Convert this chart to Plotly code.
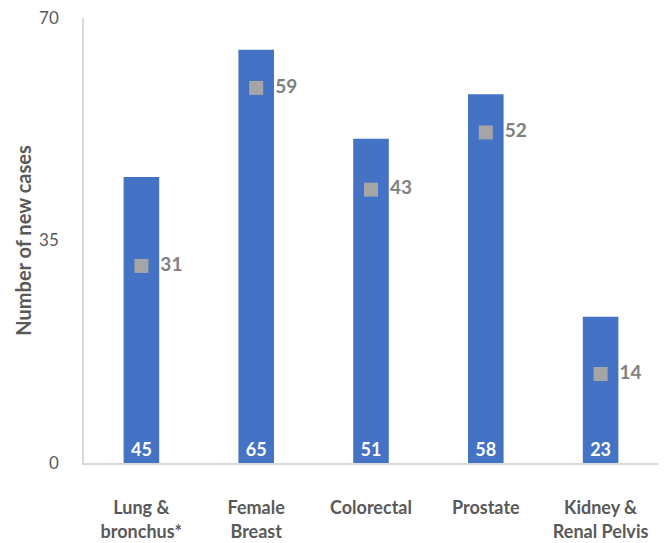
import plotly.graph_objects as go

# Cancer sites and counts
categories = ["Lung &<br>bronchus*", "Female<br>Breast", "Colorectal", "Prostate", "Kidney &<br>Renal Pelvis"]
new_cases = [45, 65, 51, 58, 23]
marker_values = [31, 59, 43, 52, 14]
y_ticks = [0, 35, 70]

FONT = "Lato, Calibri, Arial, sans-serif"

fig = go.Figure()

fig.add_trace(go.Bar(
    x=categories,
    y=new_cases,
    marker=dict(color="#4472C4", line=dict(width=0)),
    text=[str(v) for v in new_cases],
    textposition="inside",
    insidetextanchor="start",
    textangle=0,
    textfont=dict(color="white", size=18, family=FONT, weight="bold"),
    showlegend=False,
    cliponaxis=False,
))

fig.add_trace(go.Scatter(
    x=categories,
    y=marker_values,
    mode="markers+text",
    marker=dict(symbol="square", size=14, color="#A5A5A5"),
    text=["  " + str(v) for v in marker_values],
    textposition="middle right",
    textfont=dict(color="#808080", size=19, family=FONT, weight="bold"),
    showlegend=False,
    cliponaxis=False,
))

fig.update_layout(
    width=664,
    height=543,
    margin=dict(l=84, r=6, t=18, b=80),
    paper_bgcolor="white",
    plot_bgcolor="white",
    bargap=0.69,
    font=dict(family=FONT, color="#595959"),
    xaxis=dict(
        showgrid=False,
        showline=True,
        linecolor="#D9D9D9",
        linewidth=1.5,
        ticks="",
        automargin=False,
        tickfont=dict(size=18, family=FONT, color="#595959", weight="bold"),
        ticklabelstandoff=28,
    ),
    yaxis=dict(
        range=[0, 70],
        tickvals=y_ticks,
        showgrid=False,
        zeroline=False,
        showline=True,
        linecolor="#D9D9D9",
        linewidth=1.5,
        ticks="",
        automargin=False,
        ticklabelstandoff=20,
        tickfont=dict(size=17, family=FONT, color="#595959"),
        title=dict(
            text="Number of new cases",
            font=dict(size=20, family=FONT, color="#595959", weight="bold"),
            standoff=2,
        ),
    ),
)

fig.write_html("out.html")
